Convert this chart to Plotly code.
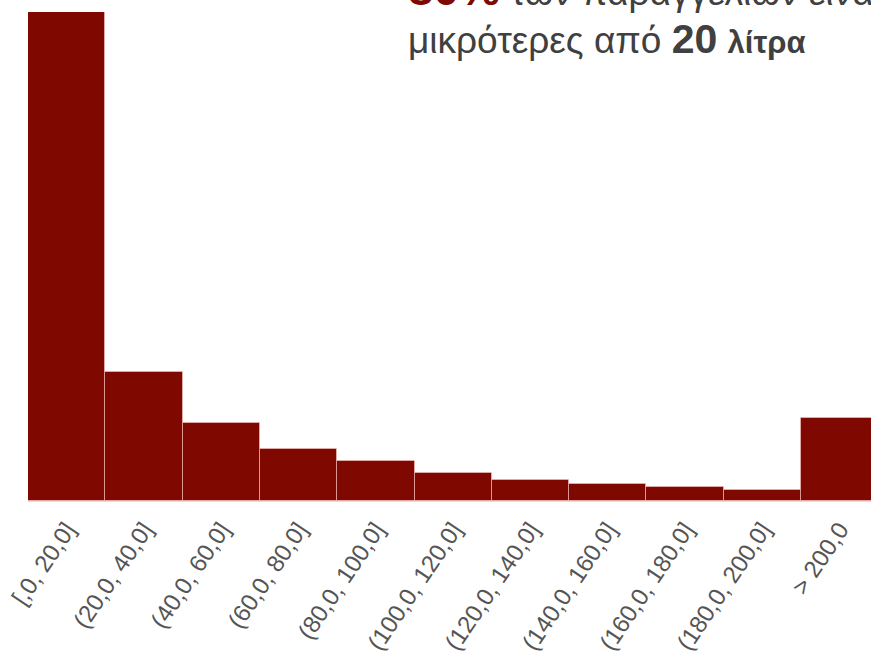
import plotly.graph_objects as go

categories = ["[,0, 20,0]", "(20,0, 40,0]", "(40,0, 60,0]", "(60,0, 80,0]", "(80,0, 100,0]",
              "(100,0, 120,0]", "(120,0, 140,0]", "(140,0, 160,0]", "(160,0, 180,0]",
              "(180,0, 200,0]", "> 200,0"]
values = [48.9, 12.9, 7.8, 5.2, 4.0, 2.8, 2.1, 1.7, 1.4, 1.1, 8.3]

BAR = "#7f0900"
TXT = "#404040"

fig = go.Figure(go.Bar(
    x=list(range(len(categories))), y=values,
    marker=dict(color=BAR, line=dict(color="rgba(255,200,200,0.55)", width=1)),
    width=1.0,
))

px_per_bar = 77.3
plot_w = 871 - 28
fig.update_layout(
    width=871, height=658,
    margin=dict(l=28, r=0, t=12, b=157),
    plot_bgcolor="white", paper_bgcolor="white",
    showlegend=False,
    bargap=0,
    font=dict(family="Liberation Sans, Arial, sans-serif", color=TXT),
    xaxis=dict(
        tickmode="array", tickvals=list(range(len(categories))), ticktext=categories,
        range=[-0.5, -0.5 + plot_w / px_per_bar],
        tickangle=-56, tickfont=dict(size=24, color="#555555"),
        ticklabelstandoff=4,
        showline=True, linecolor="#dddddd", linewidth=1,
        showgrid=False, zeroline=False, ticks="", automargin=False,
    ),
    yaxis=dict(range=[0, 48.9], visible=False, showgrid=False, zeroline=False),
    annotations=[dict(
        xref="paper", yref="paper", x=(406 - 28) / plot_w, y=(501 - 64) / 489,
        xanchor="left", yanchor="bottom", align="left", showarrow=False,
        text=("<b><span style='color:#7f0900;font-size:46px'>80%</span></b> των παραγγελιών είναι"
              "<br>μικρότερες από <b><span style='font-size:41px'>20</span></b> "
              "<b><span style='font-size:31px'>λίτρα</span></b>"),
        font=dict(size=37, color=TXT, family="Liberation Sans, Arial, sans-serif"),
    )],
)

fig.write_html("out.html")
